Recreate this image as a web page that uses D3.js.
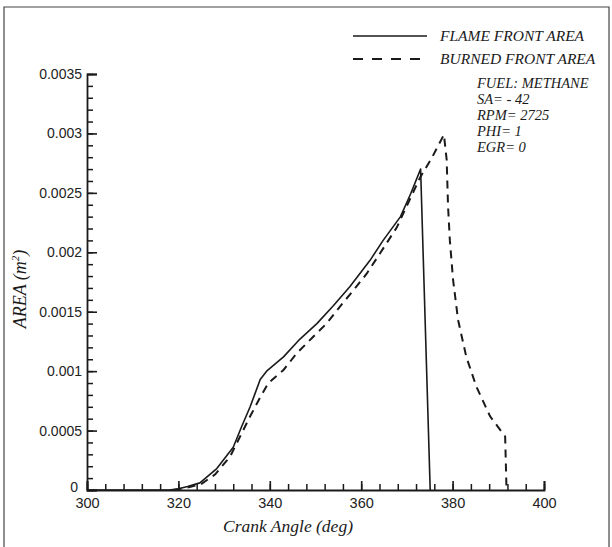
<!DOCTYPE html>
<html><head><meta charset="utf-8">
<script src="https://cdn.jsdelivr.net/npm/d3@7"></script>
<style>body{margin:0;background:#fff}svg{display:block}</style>
</head><body>
<script>
// ---- data ----
const flameAngle = [300, 318, 320, 322, 324.7, 328.4, 332, 333.8, 335.7, 337.9, 339.3, 343, 346.6, 350.3, 353.9, 357.5, 361.9, 364.8, 368.6, 370.8, 373, 375.1];
const flameArea  = [0, 0, 0.00001, 0.00003, 0.00006, 0.00018, 0.00036, 0.00053, 0.0007, 0.00093, 0.001, 0.00112, 0.00127, 0.0014, 0.00155, 0.00171, 0.00193, 0.0021, 0.0023, 0.00249, 0.0027, 0];
const burnedAngle = [319, 322, 325, 328, 331.3, 333.5, 335.7, 337.9, 339.7, 343, 345.9, 349.5, 352.4, 355.7, 358.3, 361.2, 364.1, 367.8, 370.7, 372.9, 375.4, 378.1, 378.7, 379, 379.4, 380.1, 381.2, 383, 385.2, 388.2, 391.5, 391.8];
const burnedArea  = [0, 0.00002, 0.00005, 0.00013, 0.00028, 0.00045, 0.00062, 0.00078, 0.0009, 0.00101, 0.00115, 0.00129, 0.0014, 0.00156, 0.00168, 0.00182, 0.00199, 0.00221, 0.00245, 0.00263, 0.00279, 0.00299, 0.00278, 0.00239, 0.0021, 0.00177, 0.00143, 0.00112, 0.00087, 0.00062, 0.00045, 0];
const xTicks = [300, 320, 340, 360, 380, 400];
const xMinorTicks = d3.range(300, 401, 4);
const yTicks = [0, 0.0005, 0.001, 0.0015, 0.002, 0.0025, 0.003, 0.0035];
const yMinorTicks = d3.range(0, 36).map(i => i * 0.0001);
const yTickLabels = ["0", "0.0005", "0.001", "0.0015", "0.002", "0.0025", "0.003", "0.0035"];
const legendNames = ["FLAME FRONT AREA", "BURNED FRONT AREA"];
const annotation = ["FUEL: METHANE", "SA= - 42", "RPM= 2725", "PHI= 1", "EGR= 0"];

// ---- layout ----
const W = 612, H = 547;
const svg = d3.select("body").append("svg").attr("width", W).attr("height", H);
const x = d3.scaleLinear().domain([300, 400]).range([87, 544]);
const y = d3.scaleLinear().domain([0, 0.0035]).range([490, 74]);
const ink = "#1a1a1a";
const serif = "'Liberation Serif', 'DejaVu Serif', serif";
const sans = "'Liberation Sans', Arial, sans-serif";

// outer frame (left, top, right)
svg.append("path").attr("d", `M4,${H} L4,7 L609,7 L609,${H}`).attr("fill", "none").attr("stroke", "#444").attr("stroke-width", 1.2);

// x axis minor
svg.append("g").attr("transform", "translate(0,490)")
  .call(d3.axisBottom(x).tickValues(xMinorTicks).tickSizeInner(-6).tickSizeOuter(0).tickFormat(() => ""))
  .call(g => { g.select(".domain").remove(); g.selectAll(".tick line").attr("stroke", ink).attr("stroke-width", 1.5); });
// x axis major
svg.append("g").attr("transform", "translate(0,490)")
  .call(d3.axisBottom(x).tickValues(xTicks).tickSizeInner(-9).tickSizeOuter(-9).tickPadding(8).tickFormat(d3.format("d")))
  .call(g => {
    g.select(".domain").attr("stroke", ink).attr("stroke-width", 1.8);
    g.selectAll(".tick line").attr("stroke", ink).attr("stroke-width", 1.6);
    g.selectAll("text").attr("font-family", sans).attr("font-size", 14.5).attr("fill", "#222");
  });
// y axis minor
svg.append("g").attr("transform", "translate(87,0)")
  .call(d3.axisLeft(y).tickValues(yMinorTicks).tickSizeInner(-6).tickSizeOuter(0).tickFormat(() => ""))
  .call(g => { g.select(".domain").remove(); g.selectAll(".tick line").attr("stroke", ink).attr("stroke-width", 1.5); });
// y axis major
svg.append("g").attr("transform", "translate(87,0)")
  .call(d3.axisLeft(y).tickValues(yTicks).tickSizeInner(-10).tickSizeOuter(-10).tickPadding(5).tickFormat((d, i) => yTickLabels[i]))
  .call(g => {
    g.select(".domain").attr("stroke", ink).attr("stroke-width", 1.8);
    g.selectAll(".tick line").attr("stroke", ink).attr("stroke-width", 1.6);
    g.selectAll("text").attr("font-family", sans).attr("font-size", 14).attr("fill", "#222");
    g.selectAll(".tick").filter(d => d === 0).select("text").attr("x", -9).attr("dy", "0.1em");
  });

// lines
const line = d3.line().x(d => x(d[0])).y(d => y(d[1]));
svg.append("path").datum(flameAngle.map((a, i) => [a, flameArea[i]]))
  .attr("d", line).attr("fill", "none").attr("stroke", ink).attr("stroke-width", 1.6).attr("stroke-linejoin", "round");
svg.append("path").datum(burnedAngle.map((a, i) => [a, burnedArea[i]]))
  .attr("d", line).attr("fill", "none").attr("stroke", ink).attr("stroke-width", 2).attr("stroke-dasharray", "8,6");

// legend
const lg = svg.append("g");
legendNames.forEach((n, i) => {
  const yy = 36 + i * 23;
  lg.append("line").attr("x1", 353).attr("x2", 427).attr("y1", yy).attr("y2", yy)
    .attr("stroke", ink).attr("stroke-width", i ? 1.8 : 1.4).attr("stroke-dasharray", i ? "10,9" : null);
  lg.append("text").attr("x", 440).attr("y", yy + 5).text(n)
    .attr("font-family", serif).attr("font-style", "italic").attr("font-size", 15.5).attr("fill", ink);
});
// annotation
annotation.forEach((t, i) => {
  svg.append("text").attr("x", 477).attr("y", 88 + i * 16).text(t)
    .attr("font-family", serif).attr("font-style", "italic").attr("font-size", 14.5).attr("fill", ink);
});

// axis titles
svg.append("text").attr("x", 288).attr("y", 532).attr("text-anchor", "middle")
  .attr("font-family", serif).attr("font-style", "italic").attr("font-size", 17.5).attr("fill", ink)
  .text("Crank Angle (deg)");
const yl = svg.append("text").attr("transform", "translate(26,289) rotate(-90)").attr("text-anchor", "middle")
  .attr("font-family", serif).attr("font-style", "italic").attr("font-size", 18).attr("fill", ink);
yl.append("tspan").text("AREA (m");
yl.append("tspan").attr("dy", -7).attr("font-size", 11).text("2");
yl.append("tspan").attr("dy", 7).text(")");
</script>
</body></html>
